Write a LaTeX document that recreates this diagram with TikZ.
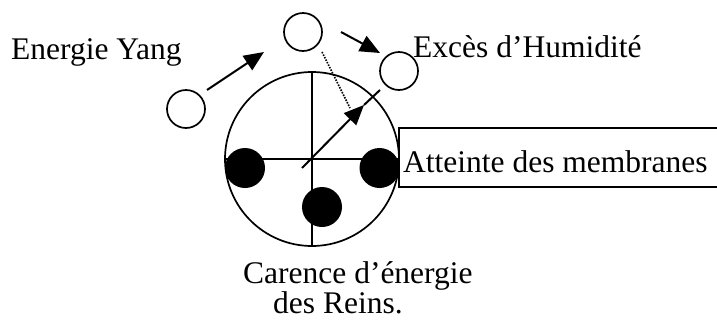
\documentclass[tikz,border=0pt]{standalone}
\usepackage{fontspec}
\setmainfont{Liberation Serif}
\usetikzlibrary{arrows.meta}
\begin{document}
\begin{tikzpicture}[x=1pt,y=-1pt,
  lbl/.style={anchor=base west, inner sep=0pt, font=\fontsize{31.5}{36}\selectfont},
  ring/.style={circle, draw, line width=1.7pt, minimum size=38pt, inner sep=0pt},
  dot/.style={circle, fill=black, minimum size=40pt, inner sep=0pt},
  arr/.style={line width=2pt, -{Triangle[length=20pt,width=17pt]}},
  plain/.style={line width=1.6pt},
  dots/.style={line width=1.6pt, dash pattern=on 1.5pt off 1.3pt}]
\useasboundingbox (0,0) rectangle (717,322);
\clip (0,0) rectangle (717,322);
% box
\node[draw, line width=1.6pt, anchor=north west, minimum width=330pt, minimum height=59pt, inner sep=0pt] (box) at (398,127) {};
% big circle
\node[circle, draw, line width=1.7pt, minimum size=174pt, inner sep=0pt] (big) at (312,159) {};
\draw[plain] (big.north) -- (big.south);
\draw[plain] (big.west) -- (big.east);
% black dots
\node[dot] (dl) at (245,168) {};
\node[dot] (dr) at (379.5,168) {};
\node[dot] (db) at (322,207) {};
% small circles
\node[ring] (cl) at (186,109) {};
\node[ring] (ct) at (303,32) {};
\node[ring] (cr) at (399,71) {};
% arrows
\coordinate (a1s) at (207,90);
\coordinate (a1e) at (264,52);
\draw[arr] (a1s) -- (a1e);
\coordinate (a2s) at (341,32);
\coordinate (a2e) at (380,53);
\draw[arr] (a2s) -- (a2e);
\coordinate (s) at (302,168);
\coordinate (m) at (364,105);
\coordinate (e) at (380,90);
\draw[arr] (s) -- (m);
\draw[line width=2pt] (m) -- (e);
\coordinate (d1) at (322,52);
\coordinate (d2) at (350,108);
\draw[dots] (d1) -- (d2);
% labels
\node[lbl] (yang) at (11,59) {Energie Yang};
\node[lbl] (hum) at (413,57) {Excès d’Humidité};
\node[lbl] (memb) at (403,172) {Atteinte des membranes};
\node[anchor=north west, inner sep=0pt, align=left,
      font=\fontsize{31.5}{28}\selectfont] (car) at (243,261.5)
  {Carence d’énergie\\\hspace*{30pt}des Reins.};
\end{tikzpicture}
\end{document}
